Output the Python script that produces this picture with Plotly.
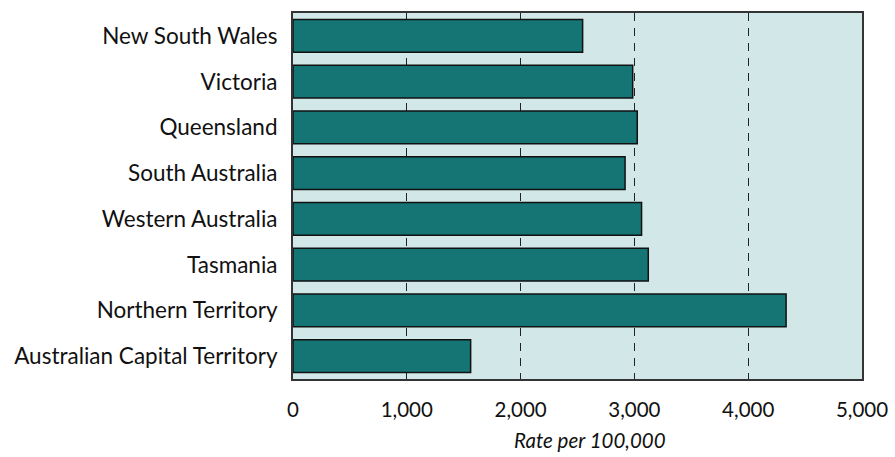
import plotly.graph_objects as go

# Rate per 100,000 by state/territory
states = [
    "New South Wales",
    "Victoria",
    "Queensland",
    "South Australia",
    "Western Australia",
    "Tasmania",
    "Northern Territory",
    "Australian Capital Territory",
]
rates = [2545, 2985, 3025, 2918, 3063, 3122, 4333, 1561]
x_ticks = [0, 1000, 2000, 3000, 4000, 5000]
x_tick_text = ["0", "1,000", "2,000", "3,000", "4,000", "5,000"]

FONT = "Lato, 'Open Sans', sans-serif"

fig = go.Figure(
    go.Bar(
        x=rates,
        y=states,
        orientation="h",
        marker=dict(color="#157575", line=dict(color="#111111", width=1.5)),
        hoverinfo="x+y",
    )
)

fig.update_layout(
    width=895,
    height=457,
    margin=dict(l=293, r=33, t=13, b=78, autoexpand=False),
    paper_bgcolor="white",
    plot_bgcolor="#d2e8e8",
    bargap=0.28,
    showlegend=False,
    font=dict(family=FONT, size=20, color="#111111"),
    xaxis=dict(
        range=[0, 5000],
        tickvals=x_ticks,
        ticktext=x_tick_text,
        showgrid=True,
        gridcolor="#222222",
        gridwidth=1.3,
        griddash="8px,7px",
        zeroline=False,
        showline=True,
        linecolor="#333333",
        linewidth=2,
        mirror=True,
        ticks="outside",
        ticklen=5,
        tickcolor="rgba(0,0,0,0)",
        ticklabelstandoff=6,
        tickfont=dict(size=20.5),
        automargin=False,
    ),
    yaxis=dict(
        categoryorder="array",
        categoryarray=states,
        autorange="reversed",
        showgrid=False,
        zeroline=False,
        showline=True,
        linecolor="#333333",
        linewidth=2,
        mirror=True,
        ticks="",
        ticklabelstandoff=9,
        tickfont=dict(size=22.5),
        automargin=False,
    ),
    annotations=[
        dict(
            text="<i>Rate per 100,000</i>",
            xref="paper",
            yref="paper",
            x=0.522,
            y=-0.168,
            xanchor="center",
            yanchor="middle",
            showarrow=False,
            font=dict(family=FONT, size=20.5, color="#111111"),
        )
    ],
)

fig.write_html("out.html")
